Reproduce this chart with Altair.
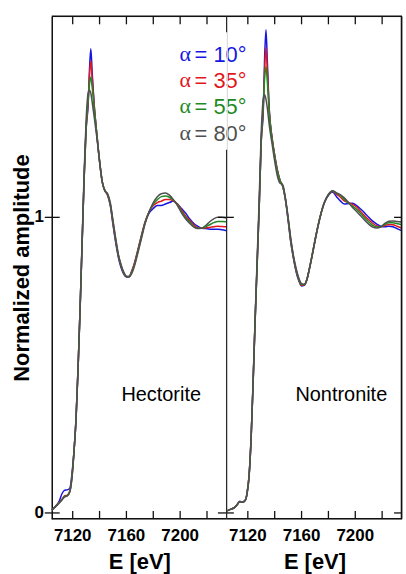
import altair as alt
import pandas as pd

# ---------------- data ----------------
ALPHA_NAMES = ["α = 10°", "α = 35°", "α = 55°", "α = 80°"]
LEGEND_REST = ["= 10°", "= 35°", "= 55°", "= 80°"]
COLORS = ["#1616e2", "#e2171d", "#1f8a24", "#505050"]

PANELS = ["Hectorite", "Nontronite"]

E_GRID = [
    7104.5, 7107, 7110, 7112, 7114, 7116, 7118, 7119.5, 7121, 7122.5,
    7124, 7125.5, 7127, 7128.5, 7130, 7131.5, 7132.5, 7133.5, 7134.5, 7136,
    7138, 7140, 7142, 7144, 7146, 7148, 7150, 7152, 7154, 7156,
    7158, 7160, 7162, 7164, 7166, 7168, 7171, 7174, 7177, 7180,
    7183, 7186, 7189, 7192, 7195, 7198, 7201, 7204, 7207, 7210,
    7213, 7216, 7219, 7222, 7225, 7228, 7231, 7234.5,
]

HEC_10 = [
    0.010, 0.022, 0.040, 0.065, 0.077, 0.078, 0.085, 0.135, 0.21, 0.32,
    0.49, 0.69, 0.91, 1.13, 1.30, 1.38, 1.50, 1.57, 1.49, 1.38,
    1.28, 1.19, 1.12, 1.09, 1.075, 1.04, 0.975, 0.915, 0.865, 0.83,
    0.808, 0.798, 0.80, 0.818, 0.845, 0.88, 0.935, 0.985, 1.015, 1.03,
    1.04, 1.04, 1.045, 1.05, 1.055, 1.045, 1.03, 1.015, 0.995, 0.98,
    0.97, 0.963, 0.962, 0.96, 0.96, 0.96, 0.958, 0.955,
]
HEC_35 = [
    0.010, 0.020, 0.036, 0.046, 0.058, 0.060, 0.076, 0.125, 0.21, 0.32,
    0.49, 0.69, 0.91, 1.13, 1.30, 1.39, 1.48, 1.53, 1.47, 1.38,
    1.28, 1.19, 1.12, 1.09, 1.075, 1.042, 0.98, 0.92, 0.87, 0.835,
    0.81, 0.80, 0.80, 0.818, 0.845, 0.88, 0.935, 0.985, 1.02, 1.04,
    1.05, 1.055, 1.06, 1.06, 1.055, 1.045, 1.025, 1.005, 0.99, 0.975,
    0.965, 0.963, 0.964, 0.966, 0.968, 0.97, 0.969, 0.968,
]
HEC_55 = [
    0.010, 0.020, 0.035, 0.045, 0.056, 0.058, 0.075, 0.125, 0.21, 0.32,
    0.49, 0.69, 0.91, 1.13, 1.30, 1.40, 1.45, 1.475, 1.44, 1.37,
    1.28, 1.19, 1.12, 1.09, 1.078, 1.045, 0.985, 0.925, 0.872, 0.838,
    0.812, 0.80, 0.80, 0.815, 0.84, 0.875, 0.93, 0.983, 1.02, 1.045,
    1.06, 1.07, 1.072, 1.068, 1.058, 1.043, 1.02, 1.0, 0.985, 0.97,
    0.963, 0.963, 0.968, 0.975, 0.982, 0.986, 0.986, 0.985,
]
HEC_80 = [
    0.010, 0.020, 0.034, 0.044, 0.054, 0.058, 0.074, 0.12, 0.21, 0.32,
    0.49, 0.69, 0.92, 1.15, 1.33, 1.42, 1.43, 1.42, 1.39, 1.34,
    1.27, 1.19, 1.12, 1.09, 1.08, 1.05, 0.99, 0.93, 0.875, 0.84,
    0.815, 0.80, 0.798, 0.81, 0.835, 0.87, 0.925, 0.98, 1.02, 1.05,
    1.07, 1.08, 1.082, 1.075, 1.06, 1.04, 1.015, 0.995, 0.98, 0.968,
    0.962, 0.963, 0.972, 0.985, 0.995, 1.0, 1.0, 0.998,
]

NON_10 = [
    0.007, 0.012, 0.018, 0.028, 0.040, 0.037, 0.043, 0.07, 0.13, 0.26,
    0.45, 0.66, 0.85, 1.04, 1.26, 1.36, 1.54, 1.635, 1.53, 1.36,
    1.27, 1.21, 1.16, 1.125, 1.105, 1.06, 0.99, 0.915, 0.86, 0.815,
    0.785, 0.768, 0.77, 0.79, 0.83, 0.875, 0.945, 1.005, 1.05, 1.075,
    1.086, 1.07, 1.055, 1.045, 1.047, 1.048, 1.04, 1.028, 1.015, 1.0,
    0.987, 0.977, 0.97, 0.968, 0.97, 0.968, 0.962, 0.955,
]
NON_35 = [
    0.007, 0.012, 0.018, 0.028, 0.038, 0.036, 0.042, 0.068, 0.13, 0.26,
    0.45, 0.66, 0.85, 1.04, 1.26, 1.37, 1.50, 1.575, 1.50, 1.36,
    1.27, 1.21, 1.16, 1.125, 1.105, 1.06, 0.993, 0.918, 0.863, 0.818,
    0.788, 0.77, 0.772, 0.79, 0.83, 0.875, 0.945, 1.005, 1.05, 1.075,
    1.088, 1.078, 1.068, 1.055, 1.05, 1.044, 1.035, 1.02, 1.005, 0.992,
    0.98, 0.971, 0.968, 0.972, 0.976, 0.975, 0.97, 0.964,
]
NON_55 = [
    0.007, 0.012, 0.018, 0.028, 0.038, 0.036, 0.042, 0.068, 0.13, 0.26,
    0.45, 0.66, 0.85, 1.04, 1.26, 1.38, 1.47, 1.51, 1.46, 1.35,
    1.265, 1.205, 1.155, 1.123, 1.105, 1.062, 0.996, 0.922, 0.866, 0.822,
    0.79, 0.773, 0.773, 0.79, 0.83, 0.875, 0.945, 1.005, 1.05, 1.076,
    1.088, 1.082, 1.073, 1.06, 1.048, 1.038, 1.027, 1.013, 0.998, 0.985,
    0.973, 0.967, 0.968, 0.976, 0.982, 0.982, 0.979, 0.975,
]
NON_80 = [
    0.007, 0.012, 0.018, 0.028, 0.038, 0.036, 0.042, 0.068, 0.13, 0.26,
    0.46, 0.67, 0.87, 1.07, 1.29, 1.40, 1.415, 1.40, 1.37, 1.31,
    1.25, 1.19, 1.14, 1.115, 1.11, 1.065, 1.0, 0.928, 0.87, 0.826,
    0.794, 0.776, 0.774, 0.79, 0.828, 0.872, 0.942, 1.003, 1.05, 1.078,
    1.09, 1.083, 1.076, 1.065, 1.05, 1.033, 1.02, 1.005, 0.99, 0.977,
    0.967, 0.964, 0.968, 0.98, 0.987, 0.988, 0.986, 0.984,
]

X_TICKS = [7120, 7140, 7160, 7180, 7200, 7220]
X_LABELS = [7120, 7160, 7200]
Y_TICKS = [0, 1]
X_DOMAIN = [7104.4, 7234.8]
Y_DOMAIN = [-0.02, 1.68]

# ---------------- layout / style ----------------
W, H = 176, 505
FONT = "Liberation Sans"
SERIF = "Liberation Serif"
FRAME = "#111111"

xscale = alt.Scale(domain=X_DOMAIN, nice=False, zero=False)
yscale = alt.Scale(domain=Y_DOMAIN, nice=False, zero=False)
one = pd.DataFrame({"k": [0]})
xt_df = pd.DataFrame({"t": X_TICKS})
yt_df = pd.DataFrame({"t": Y_TICKS})
xl_df = pd.DataFrame({"t": X_LABELS})


def series_df(ys):
    return pd.DataFrame({"E": E_GRID, "y": ys})


def hrule(y):
    return alt.Chart(one).mark_rule(color=FRAME, strokeWidth=1.5).encode(
        x=alt.value(0.01), x2=alt.value(W), y=alt.value(y))


def vrule(x, y0, y1=H, w=1.6):
    return alt.Chart(one).mark_rule(color=FRAME, strokeWidth=w).encode(
        x=alt.value(x), y=alt.value(y0), y2=alt.value(y1))


def panel(series, label, left):
    x_axis = alt.Axis(values=X_LABELS, domain=False, ticks=False, grid=False, labels=False,
                      title="E [eV]", titleFont=FONT, titleFontSize=22,
                      titleFontWeight="bold", titleColor="black", titlePadding=33)
    if left:
        y_axis = alt.Axis(values=Y_TICKS, domain=True, domainColor=FRAME,
                          domainWidth=1.5, ticks=False, grid=False, labels=False,
                          title="Normalized amplitude", titleFont=FONT, titleFontSize=22,
                          titleFontWeight="bold", titleColor="black", titlePadding=18)
    else:
        y_axis = None

    def xticks(y0, y1):
        return alt.Chart(xt_df).mark_rule(color=FRAME, strokeWidth=1.3).encode(
            x=alt.X("t:Q", scale=xscale, axis=x_axis), y=alt.value(y0), y2=alt.value(y1))

    def yticks(x0, x1):
        return alt.Chart(yt_df).mark_rule(color=FRAME, strokeWidth=1.3).encode(
            y=alt.Y("t:Q", scale=yscale, axis=y_axis), x=alt.value(x0), x2=alt.value(x1))

    layers = []
    for ys, col in zip(series, COLORS):
        layers.append(
            alt.Chart(series_df(ys)).mark_line(color=col, strokeWidth=1.5, interpolate="monotone").encode(
                x=alt.X("E:Q", scale=xscale, axis=x_axis),
                y=alt.Y("y:Q", scale=yscale, axis=y_axis),
            )
        )

    # frame
    layers += [hrule(0), hrule(H), xticks(0, 8), xticks(H - 8, H)]
    if left:
        layers += [vrule(W, 134, w=1.8), vrule(W, 0, 16, w=1.8),
                   yticks(-7, 8), yticks(W - 9, W)]
    else:
        layers += [vrule(W - 0.5, 0), yticks(0, 7), yticks(W - 8, W)]

    # tick labels as text
    layers.append(
        alt.Chart(xl_df).mark_text(font=FONT, fontSize=17, fontWeight="bold", color="black",
                                   align="center", baseline="middle").encode(
            x=alt.X("t:Q", scale=xscale, axis=x_axis), y=alt.value(H + 17),
            text=alt.Text("t:Q", format="d"))
    )
    if left:
        layers.append(
            alt.Chart(yt_df).mark_text(font=FONT, fontSize=17, fontWeight="bold", color="black",
                                       align="right", baseline="middle").encode(
                y=alt.Y("t:Q", scale=yscale, axis=y_axis), x=alt.value(-8),
                text=alt.Text("t:Q", format="d"))
        )

    # panel label
    layers.append(
        alt.Chart(pd.DataFrame({"txt": [label]})).mark_text(
            font=FONT, fontSize=20, color="black", align="center", baseline="middle"
        ).encode(x=alt.value(110 if left else 115), y=alt.value(381), text="txt:N")
    )

    # legend text (in the left panel)
    if left:
        for i in range(4):
            d = pd.DataFrame({"a": ["α"], "r": [LEGEND_REST[i]]})
            yy = 38 + i * 26.3
            layers.append(
                alt.Chart(d).mark_text(font=SERIF, fontSize=22, color=COLORS[i],
                                       align="left", baseline="middle").encode(
                    x=alt.value(128.5), y=alt.value(yy), text="a:N"))
            layers.append(
                alt.Chart(d).mark_text(font=FONT, fontSize=22, color=COLORS[i],
                                       align="left", baseline="middle").encode(
                    x=alt.value(143.5), y=alt.value(yy + 1), text="r:N"))

    return alt.layer(*layers).properties(width=W, height=H)


left = panel([HEC_10, HEC_35, HEC_55, HEC_80], PANELS[0], True)
right = panel([NON_10, NON_35, NON_55, NON_80], PANELS[1], False)

chart = alt.hconcat(left, right, spacing=0, bounds="flush").properties(
    padding={"left": 10, "top": 13, "right": 0, "bottom": 2}
).configure_view(stroke=None).configure(font=FONT)

chart.save("out.html", embed_options={"renderer": "svg", "actions": False})
